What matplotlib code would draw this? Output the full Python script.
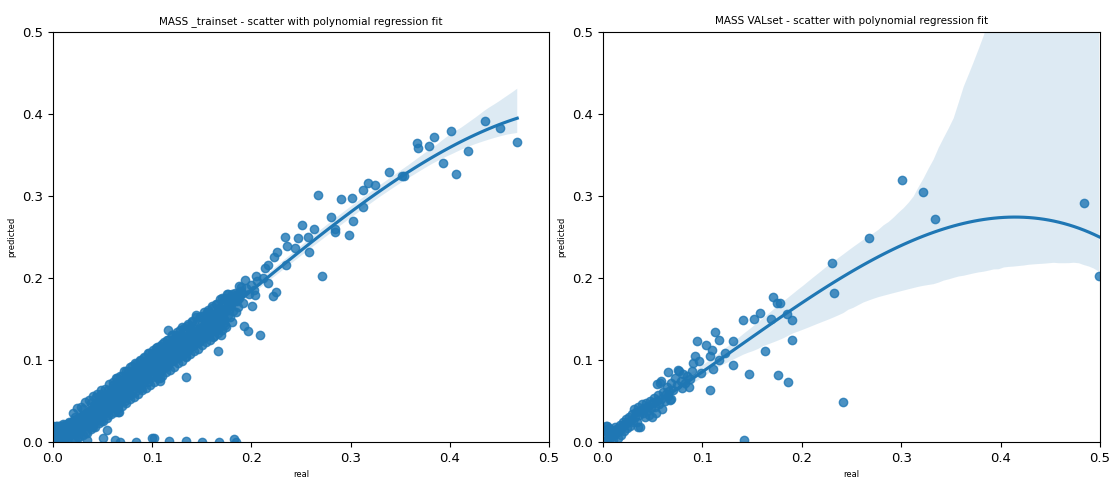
import matplotlib
matplotlib.use("Agg")
import matplotlib.pyplot as plt
import numpy as np
import seaborn as sns

# ---------------- training set: real vs predicted mass ----------------
train_real = [
    0.000, 0.001, 0.002, 0.000, 0.003, 0.004, 0.005, 0.006, 0.007, 0.008,
    0.009, 0.010, 0.011, 0.012, 0.013, 0.014, 0.015, 0.016, 0.017, 0.018,
    0.019, 0.020, 0.021, 0.022, 0.023, 0.024, 0.025, 0.026, 0.027, 0.028,
    0.029, 0.030, 0.031, 0.032, 0.033, 0.034, 0.035, 0.036, 0.037, 0.038,
    0.039, 0.040, 0.041, 0.042, 0.043, 0.044, 0.045, 0.046, 0.047, 0.048,
    0.049, 0.050, 0.051, 0.052, 0.053, 0.054, 0.055, 0.056, 0.057, 0.058,
    0.059, 0.060, 0.061, 0.062, 0.063, 0.064, 0.065, 0.066, 0.067, 0.068,
    0.069, 0.070, 0.071, 0.072, 0.073, 0.074, 0.075, 0.076, 0.077, 0.078,
    0.079, 0.080, 0.081, 0.082, 0.083, 0.084, 0.085, 0.086, 0.087, 0.088,
    0.089, 0.090, 0.091, 0.092, 0.093, 0.094, 0.095, 0.096, 0.097, 0.098,
    0.099, 0.100, 0.101, 0.102, 0.103, 0.104, 0.105, 0.106, 0.107, 0.108,
    0.109, 0.110, 0.111, 0.112, 0.113, 0.114, 0.115, 0.116, 0.117, 0.118,
    0.119, 0.120, 0.121, 0.122, 0.123, 0.124, 0.125, 0.126, 0.127, 0.128,
    0.129, 0.130, 0.131, 0.132, 0.133, 0.135, 0.136, 0.137, 0.138, 0.140,
    0.141, 0.142, 0.143, 0.145, 0.146, 0.147, 0.148, 0.150, 0.151, 0.152,
    0.153, 0.155, 0.156, 0.157, 0.158, 0.160, 0.161, 0.162, 0.163, 0.165,
    0.166, 0.167, 0.168, 0.170, 0.171, 0.172, 0.174, 0.175, 0.176, 0.178,
    0.180, 0.181, 0.183, 0.185, 0.186, 0.188, 0.190, 0.192, 0.195, 0.198,
    0.200, 0.203, 0.206,
    # upper edge of the band
    0.022, 0.030, 0.038, 0.043, 0.048, 0.055, 0.060, 0.065, 0.070, 0.074,
    0.078, 0.083, 0.088, 0.092, 0.097, 0.101, 0.105, 0.110, 0.115, 0.120,
    0.125, 0.130, 0.135, 0.140, 0.144, 0.150, 0.155, 0.160, 0.165, 0.170,
    0.175, 0.183, 0.188,
    # lower edge of the band
    0.025, 0.032, 0.040, 0.045, 0.050, 0.057, 0.063, 0.067, 0.072, 0.077,
    0.081, 0.086, 0.090, 0.095, 0.100, 0.104, 0.108, 0.112, 0.116, 0.121,
    0.126, 0.131, 0.136, 0.142, 0.147, 0.152, 0.157, 0.162, 0.167, 0.172,
    0.178, 0.184,
    # middle of the band
    0.015, 0.027, 0.035, 0.044, 0.053, 0.061, 0.069, 0.076, 0.084, 0.091,
    0.098, 0.103, 0.107, 0.111, 0.118, 0.124, 0.129, 0.134, 0.139, 0.144,
    0.149, 0.154, 0.159, 0.164, 0.169, 0.173, 0.179, 0.187,
    # close to the origin
    0.000, 0.000, 0.000, 0.001, 0.002, 0.003, 0.004, 0.006, 0.008, 0.010,
    0.012, 0.005, 0.009, 0.016,
    # points away from the main band
    0.468, 0.451, 0.435, 0.418, 0.406, 0.401, 0.393, 0.384, 0.379, 0.367,
    0.368, 0.352, 0.354, 0.339, 0.325, 0.318, 0.312, 0.312, 0.302, 0.301,
    0.298, 0.290, 0.284, 0.284, 0.280, 0.267, 0.271, 0.263, 0.258, 0.257,
    0.251, 0.247, 0.244, 0.236, 0.235, 0.234, 0.226, 0.223, 0.225, 0.222,
    0.217, 0.214, 0.217, 0.212, 0.205, 0.204, 0.201, 0.194, 0.190, 0.193,
    0.197, 0.209, 0.166, 0.173, 0.169, 0.134, 0.116, 0.108, 0.134, 0.066,
    0.054, 0.040,
    # predicted as zero
    0.034, 0.050, 0.062, 0.068, 0.084, 0.100, 0.102, 0.117, 0.134, 0.150,
    0.167, 0.182, 0.184,
]
train_pred = [
    0.000, 0.004, 0.010, 0.016, 0.020, 0.002, 0.012, 0.006, 0.017, 0.001,
    0.009, 0.014, 0.004, 0.019, 0.010, 0.000, 0.016, 0.007, 0.022, 0.013,
    0.003, 0.019, 0.025, 0.011, 0.017, 0.027, 0.006, 0.021, 0.030, 0.015,
    0.025, 0.033, 0.020, 0.028, 0.012, 0.035, 0.024, 0.031, 0.038, 0.027,
    0.019, 0.034, 0.042, 0.029, 0.037, 0.047, 0.032, 0.040, 0.051, 0.026,
    0.044, 0.036, 0.049, 0.057, 0.041, 0.052, 0.033, 0.046, 0.060, 0.050,
    0.042, 0.056, 0.064, 0.047, 0.058, 0.053, 0.068, 0.044, 0.061, 0.072,
    0.055, 0.066, 0.059, 0.075, 0.050, 0.069, 0.079, 0.063, 0.072, 0.057,
    0.083, 0.068, 0.076, 0.088, 0.061, 0.079, 0.071, 0.091, 0.083, 0.074,
    0.066, 0.087, 0.095, 0.078, 0.090, 0.082, 0.100, 0.073, 0.093, 0.086,
    0.103, 0.079, 0.096, 0.108, 0.089, 0.099, 0.084, 0.111, 0.093, 0.102,
    0.114, 0.088, 0.106, 0.098, 0.117, 0.092, 0.109, 0.102, 0.121, 0.097,
    0.113, 0.106, 0.124, 0.101, 0.117, 0.110, 0.128, 0.104, 0.121, 0.114,
    0.131, 0.109, 0.125, 0.118, 0.135, 0.113, 0.129, 0.122, 0.139, 0.117,
    0.133, 0.126, 0.143, 0.121, 0.137, 0.131, 0.153, 0.127, 0.141, 0.135,
    0.148, 0.132, 0.145, 0.157, 0.139, 0.150, 0.128, 0.143, 0.156, 0.137,
    0.151, 0.163, 0.145, 0.158, 0.170, 0.150, 0.163, 0.176, 0.155, 0.168,
    0.180, 0.160, 0.172, 0.181, 0.165, 0.176, 0.184, 0.170, 0.188, 0.180,
    0.191, 0.185, 0.196,
    0.030, 0.040, 0.047, 0.055, 0.058, 0.064, 0.070, 0.078, 0.081, 0.087,
    0.092, 0.096, 0.099, 0.104, 0.108, 0.112, 0.116, 0.120, 0.124, 0.131,
    0.134, 0.140, 0.142, 0.148, 0.155, 0.154, 0.158, 0.163, 0.168, 0.176,
    0.180, 0.182, 0.190,
    0.014, 0.019, 0.026, 0.030, 0.033, 0.040, 0.045, 0.036, 0.054, 0.060,
    0.063, 0.068, 0.072, 0.077, 0.082, 0.086, 0.078, 0.092, 0.094, 0.099,
    0.103, 0.106, 0.112, 0.118, 0.122, 0.127, 0.130, 0.136, 0.140, 0.145,
    0.152, 0.158,
    0.010, 0.022, 0.030, 0.041, 0.049, 0.058, 0.064, 0.071, 0.085, 0.089,
    0.095, 0.101, 0.104, 0.109, 0.113, 0.119, 0.124, 0.127, 0.134, 0.138,
    0.143, 0.146, 0.152, 0.155, 0.161, 0.166, 0.171, 0.178,
    0.008, 0.012, 0.020, 0.000, 0.018, 0.006, 0.014, 0.020, 0.011, 0.022,
    0.006, 0.000, 0.000, 0.024,
    0.366, 0.383, 0.392, 0.355, 0.327, 0.379, 0.340, 0.372, 0.361, 0.365,
    0.358, 0.324, 0.325, 0.329, 0.314, 0.316, 0.307, 0.287, 0.269, 0.297,
    0.252, 0.296, 0.256, 0.260, 0.275, 0.301, 0.203, 0.260, 0.232, 0.250,
    0.265, 0.249, 0.236, 0.239, 0.216, 0.250, 0.232, 0.226, 0.183, 0.178,
    0.216, 0.212, 0.194, 0.200, 0.202, 0.179, 0.166, 0.198, 0.189, 0.141,
    0.135, 0.130, 0.111, 0.143, 0.131, 0.079, 0.136, 0.074, 0.105, 0.036,
    0.015, 0.018,
    0.002, 0.005, 0.002, 0.000, 0.000, 0.005, 0.005, 0.001, 0.001, 0.000,
    0.000, 0.004, 0.000,
]

# densest part of the training band (many overlapping samples)
train_dense_real = [
    0.000, 0.000, 0.000, 0.001, 0.001, 0.002, 0.002, 0.003, 0.003, 0.004,
    0.004, 0.005, 0.005, 0.006, 0.006, 0.007, 0.007, 0.008, 0.008, 0.009,
    0.009, 0.010, 0.010, 0.011, 0.011, 0.012, 0.012, 0.013, 0.013, 0.014,
    0.014, 0.015, 0.015, 0.016, 0.016, 0.017, 0.017, 0.018, 0.018, 0.019,
    0.019, 0.020, 0.020, 0.021, 0.021, 0.022, 0.022, 0.023, 0.023, 0.024,
    0.024, 0.025, 0.025, 0.026, 0.026, 0.027, 0.027, 0.028, 0.028, 0.029,
    0.029, 0.030, 0.030, 0.031, 0.031, 0.032, 0.032, 0.033, 0.033, 0.034,
    0.034, 0.035, 0.035, 0.036, 0.036, 0.037, 0.037, 0.038, 0.039, 0.040,
    0.041, 0.041, 0.042, 0.042, 0.043, 0.043, 0.044, 0.044, 0.045, 0.045,
    0.046, 0.046, 0.047, 0.047, 0.048, 0.048, 0.049, 0.049, 0.050, 0.050,
    0.051, 0.051, 0.052, 0.052, 0.053, 0.053, 0.054, 0.054, 0.055, 0.055,
    0.056, 0.056, 0.057, 0.057, 0.058, 0.058, 0.059, 0.059, 0.060, 0.060,
    0.061, 0.061, 0.062, 0.062, 0.063, 0.063, 0.064, 0.064, 0.065, 0.065,
    0.066, 0.066, 0.067, 0.067, 0.068, 0.068, 0.069, 0.069, 0.070, 0.070,
    0.071, 0.071, 0.072, 0.072, 0.073, 0.073, 0.074, 0.074, 0.075, 0.075,
    0.076, 0.076, 0.077, 0.077, 0.078, 0.078, 0.079, 0.079, 0.080, 0.080,
    0.082, 0.082, 0.084, 0.084, 0.086, 0.086, 0.088, 0.088, 0.090, 0.090,
    0.092, 0.092, 0.094, 0.094, 0.096, 0.096, 0.098, 0.098, 0.100, 0.100,
    0.102, 0.102, 0.104, 0.104, 0.106, 0.106, 0.108, 0.108, 0.110, 0.110,
    0.112, 0.112, 0.114, 0.114, 0.116, 0.116, 0.118, 0.118, 0.120, 0.120,
    0.122, 0.122, 0.124, 0.124, 0.126, 0.126, 0.128, 0.128, 0.130, 0.130,
    0.132, 0.132, 0.134, 0.134, 0.136, 0.136, 0.138, 0.138, 0.140, 0.140,
    0.143, 0.143, 0.146, 0.146, 0.149, 0.149, 0.152, 0.152, 0.155, 0.155,
    0.158, 0.158, 0.161, 0.161, 0.164, 0.164, 0.167, 0.167, 0.170, 0.170,
    0.173, 0.176, 0.179, 0.182, 0.185, 0.188, 0.191, 0.177, 0.168, 0.159,
    # outer rims of the band
    0.020, 0.024, 0.028, 0.032, 0.036, 0.040, 0.044, 0.048, 0.052, 0.056,
    0.060, 0.064, 0.068, 0.072, 0.076, 0.080, 0.084, 0.088, 0.092, 0.096,
    0.100, 0.104, 0.108, 0.112, 0.116, 0.120, 0.124, 0.128, 0.132, 0.136,
    0.140, 0.144, 0.148, 0.152, 0.156, 0.160, 0.164, 0.168, 0.172, 0.176,
    0.022, 0.026, 0.030, 0.034, 0.038, 0.042, 0.046, 0.050, 0.054, 0.058,
    0.062, 0.066, 0.070, 0.074, 0.078, 0.082, 0.086, 0.090, 0.094, 0.098,
    0.102, 0.106, 0.110, 0.114, 0.118, 0.122, 0.126, 0.130, 0.134, 0.138,
    0.142, 0.146, 0.150, 0.154, 0.158, 0.162, 0.166, 0.170, 0.174, 0.180,
]
train_dense_pred = [
    0.003, 0.011, 0.018, 0.007, 0.015, 0.001, 0.013, 0.009, 0.017, 0.005,
    0.019, 0.008, 0.003, 0.014, 0.010, 0.002, 0.019, 0.006, 0.015, 0.011,
    0.004, 0.008, 0.017, 0.012, 0.021, 0.006, 0.015, 0.020, 0.008, 0.013,
    0.022, 0.011, 0.018, 0.014, 0.023, 0.009, 0.017, 0.020, 0.012, 0.024,
    0.016, 0.013, 0.022, 0.018, 0.027, 0.015, 0.023, 0.020, 0.012, 0.026,
    0.018, 0.022, 0.029, 0.016, 0.025, 0.019, 0.031, 0.023, 0.017, 0.028,
    0.021, 0.026, 0.019, 0.031, 0.024, 0.029, 0.021, 0.034, 0.027, 0.030,
    0.022, 0.036, 0.028, 0.032, 0.025, 0.039, 0.030, 0.035, 0.033, 0.038,
    0.031, 0.045, 0.038, 0.026, 0.043, 0.034, 0.049, 0.036, 0.041, 0.030,
    0.047, 0.039, 0.035, 0.053, 0.044, 0.037, 0.050, 0.041, 0.046, 0.039,
    0.054, 0.043, 0.048, 0.040, 0.056, 0.045, 0.051, 0.038, 0.058, 0.047,
    0.053, 0.042, 0.049, 0.061, 0.055, 0.045, 0.051, 0.058, 0.063, 0.049,
    0.054, 0.047, 0.060, 0.052, 0.066, 0.057, 0.050, 0.062, 0.058, 0.070,
    0.063, 0.053, 0.059, 0.068, 0.064, 0.055, 0.073, 0.060, 0.066, 0.058,
    0.070, 0.062, 0.067, 0.077, 0.061, 0.071, 0.066, 0.080, 0.073, 0.063,
    0.069, 0.078, 0.074, 0.065, 0.082, 0.071, 0.076, 0.067, 0.085, 0.074,
    0.078, 0.070, 0.086, 0.076, 0.081, 0.073, 0.090, 0.080, 0.084, 0.077,
    0.093, 0.083, 0.088, 0.079, 0.097, 0.086, 0.091, 0.082, 0.099, 0.089,
    0.093, 0.105, 0.097, 0.085, 0.101, 0.110, 0.095, 0.105, 0.099, 0.112,
    0.103, 0.094, 0.108, 0.117, 0.100, 0.110, 0.114, 0.105, 0.109, 0.119,
    0.113, 0.104, 0.118, 0.109, 0.122, 0.113, 0.117, 0.108, 0.126, 0.115,
    0.120, 0.111, 0.124, 0.116, 0.129, 0.119, 0.123, 0.132, 0.127, 0.118,
    0.131, 0.122, 0.135, 0.126, 0.139, 0.129, 0.142, 0.133, 0.138, 0.146,
    0.141, 0.134, 0.150, 0.140, 0.145, 0.154, 0.149, 0.140, 0.158, 0.151,
    0.160, 0.165, 0.168, 0.174, 0.172, 0.181, 0.182, 0.161, 0.154, 0.146,
    0.035, 0.041, 0.043, 0.049, 0.051, 0.056, 0.058, 0.064, 0.065, 0.071,
    0.073, 0.078, 0.080, 0.086, 0.087, 0.093, 0.095, 0.100, 0.102, 0.108,
    0.109, 0.115, 0.117, 0.122, 0.124, 0.130, 0.131, 0.137, 0.139, 0.144,
    0.146, 0.152, 0.153, 0.159, 0.161, 0.166, 0.168, 0.174, 0.175, 0.181,
    0.002, 0.006, 0.009, 0.011, 0.016, 0.018, 0.023, 0.026, 0.029, 0.034,
    0.036, 0.041, 0.044, 0.047, 0.052, 0.055, 0.059, 0.063, 0.066, 0.070,
    0.073, 0.078, 0.080, 0.085, 0.088, 0.092, 0.096, 0.099, 0.104, 0.107,
    0.111, 0.114, 0.118, 0.122, 0.125, 0.129, 0.133, 0.137, 0.140, 0.146,
]

# ---------------- validation set: real vs predicted mass ----------------
val_real = [
    0.000, 0.001, 0.002, 0.003, 0.004, 0.005, 0.006, 0.007, 0.008, 0.009,
    0.010, 0.011, 0.012, 0.013, 0.014, 0.015, 0.016, 0.017, 0.018, 0.019,
    0.020, 0.021, 0.022, 0.023, 0.024, 0.025, 0.026, 0.027, 0.028, 0.029,
    0.030, 0.031, 0.032, 0.033, 0.034, 0.035, 0.036, 0.037, 0.038, 0.039,
    0.040, 0.041, 0.042, 0.043, 0.044, 0.045, 0.046, 0.047, 0.048, 0.049,
    0.050, 0.051, 0.052, 0.053, 0.054, 0.055, 0.056, 0.057, 0.058, 0.059,
    0.060, 0.062, 0.063, 0.064, 0.065, 0.066, 0.067, 0.068, 0.070, 0.072,
    0.074, 0.076, 0.078, 0.080, 0.082, 0.085, 0.088, 0.090,
    0.484, 0.499, 0.301, 0.322, 0.334, 0.268, 0.230, 0.232, 0.241, 0.171,
    0.175, 0.178, 0.185, 0.190, 0.190, 0.186, 0.176, 0.163, 0.169, 0.158,
    0.152, 0.141, 0.147, 0.142, 0.131, 0.131, 0.117, 0.113, 0.110, 0.111,
    0.108, 0.104, 0.108, 0.117, 0.123, 0.095, 0.093, 0.097, 0.091, 0.099,
    0.087, 0.075, 0.065, 0.058, 0.054, 0.068, 0.079, 0.035, 0.004, 0.014,
]
val_pred = [
    0.000, 0.008, 0.015, 0.020, 0.003, 0.011, 0.017, 0.005, 0.009, 0.014,
    0.002, 0.008, 0.018, 0.011, 0.016, 0.005, 0.013, 0.021, 0.009, 0.018,
    0.025, 0.014, 0.022, 0.028, 0.017, 0.024, 0.031, 0.020, 0.027, 0.034,
    0.024, 0.040, 0.030, 0.036, 0.025, 0.043, 0.033, 0.018, 0.039, 0.046,
    0.035, 0.042, 0.030, 0.047, 0.038, 0.044, 0.033, 0.050, 0.041, 0.030,
    0.047, 0.054, 0.043, 0.035, 0.050, 0.057, 0.046, 0.072, 0.053, 0.040,
    0.061, 0.050, 0.058, 0.067, 0.056, 0.062, 0.051, 0.072, 0.064, 0.078,
    0.070, 0.086, 0.075, 0.083, 0.072, 0.081, 0.077, 0.087,
    0.291, 0.203, 0.320, 0.305, 0.272, 0.249, 0.218, 0.182, 0.049, 0.177,
    0.169, 0.169, 0.156, 0.149, 0.124, 0.073, 0.082, 0.111, 0.150, 0.157,
    0.150, 0.149, 0.083, 0.002, 0.123, 0.094, 0.125, 0.134, 0.112, 0.089,
    0.064, 0.118, 0.105, 0.100, 0.108, 0.123, 0.105, 0.099, 0.096, 0.084,
    0.067, 0.088, 0.085, 0.074, 0.071, 0.052, 0.066, 0.018, 0.020, 0.016,
]

panels = [
    ("MASS _trainset - scatter with polynomial regression fit",
     train_real + train_dense_real, train_pred + train_dense_pred),
    ("MASS VALset - scatter with polynomial regression fit",
     val_real, val_pred),
]

fig = plt.figure(figsize=(11.15, 4.78), dpi=100)
axes_rects = [
    [53 / 1115, 36 / 478, 496 / 1115, 410 / 478],
    [603 / 1115, 36 / 478, 497 / 1115, 410 / 478],
]

for rect, (title, xs, ys) in zip(axes_rects, panels):
    ax = fig.add_axes(rect)
    sns.regplot(x=np.array(xs), y=np.array(ys), order=3, ax=ax,
                color="#1f77b4", seed=0)
    ax.set_xlim(0, 0.5)
    ax.set_ylim(0, 0.5)
    ax.set_title(title, fontsize=7.5)
    ax.set_xlabel("real", fontsize=6)
    ax.set_ylabel("predicted", fontsize=6)
    ax.tick_params(labelsize=9.5)

fig.savefig("out.png", dpi=100)
